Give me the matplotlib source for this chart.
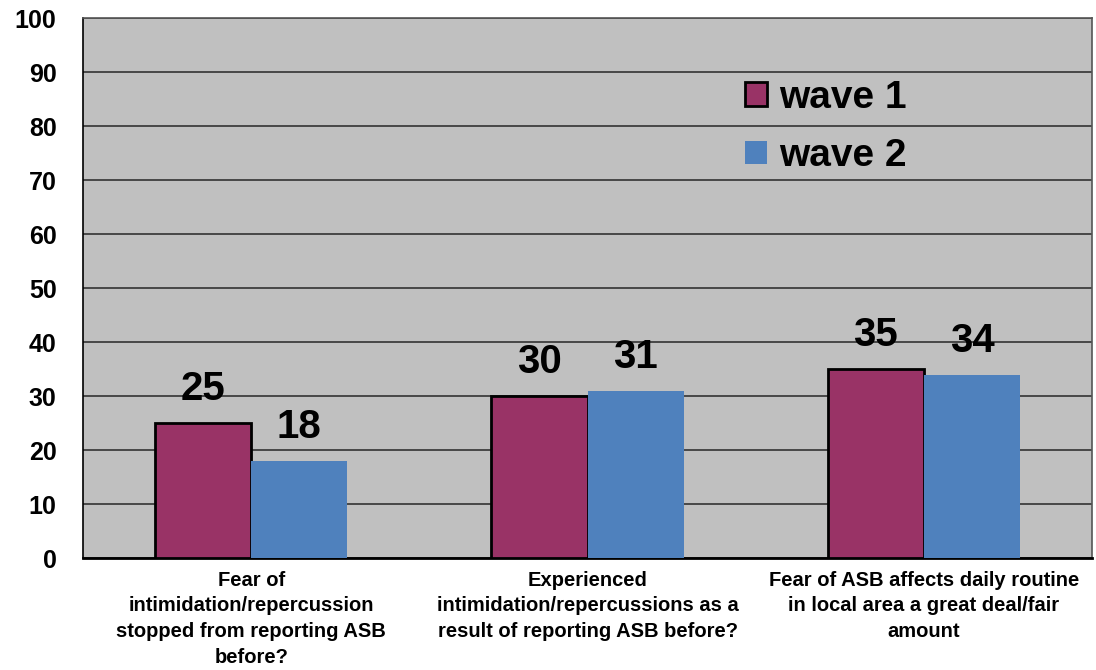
import matplotlib
matplotlib.use("Agg")
import matplotlib.pyplot as plt
import numpy as np

plt.rcParams['font.family'] = ['Liberation Sans', 'DejaVu Sans']

categories = [
    "Fear of\nintimidation/repercussion\nstopped from reporting ASB\nbefore?",
    "Experienced\nintimidation/repercussions as a\nresult of reporting ASB before?",
    "Fear of ASB affects daily routine\nin local area a great deal/fair\namount",
]
wave1 = [25, 30, 35]
wave2 = [18, 31, 34]
yticks = list(range(0, 101, 10))

fig = plt.figure(figsize=(10.96, 6.7), dpi=100)
ax = fig.add_axes([0.0757, 0.167, 0.9207, 0.806])
ax.set_facecolor("#C0C0C0")

x = np.arange(len(categories))
w = 0.2857
b1 = ax.bar(x - w / 2, wave1, w, color="#993366", edgecolor="black", linewidth=2, label="wave 1", zorder=3)
b2 = ax.bar(x + w / 2, wave2, w, color="#4F81BD", edgecolor="none", label="wave 2", zorder=3)

for bars in (b1, b2):
    for r in bars:
        ax.text(r.get_x() + r.get_width() / 2, r.get_height() + 4.2, f"{r.get_height():.0f}",
                ha="center", va="baseline", fontsize=29, fontweight="bold", zorder=4)

ax.set_xlim(-0.5, 2.5)
ax.set_ylim(0, 100)
ax.set_yticks(yticks)
ax.set_yticklabels([str(t) for t in yticks], fontsize=18, fontweight="bold")
ax.yaxis.grid(True, color="#333333", linewidth=1.2, zorder=0)
ax.set_axisbelow(True)
ax.set_xticks(x)
ax.set_xticklabels(categories, fontsize=14.5, fontweight="bold", linespacing=1.45)
ax.tick_params(axis="both", length=0)
ax.tick_params(axis="y", pad=19)
ax.tick_params(axis="x", pad=9)
for s in ax.spines.values():
    s.set_color("#555555")
    s.set_linewidth(1.2)
ax.spines["bottom"].set_color("black")
ax.spines["left"].set_color("black")
ax.spines["bottom"].set_linewidth(2)

leg = ax.legend(loc="upper left", bbox_to_anchor=(0.656, 0.886), frameon=False,
                prop={"size": 28, "weight": "bold"}, handlelength=0.57, handleheight=0.57,
                handletextpad=0.3, labelspacing=0.58, borderaxespad=0, borderpad=0)

fig.savefig("out.png", dpi=100)
